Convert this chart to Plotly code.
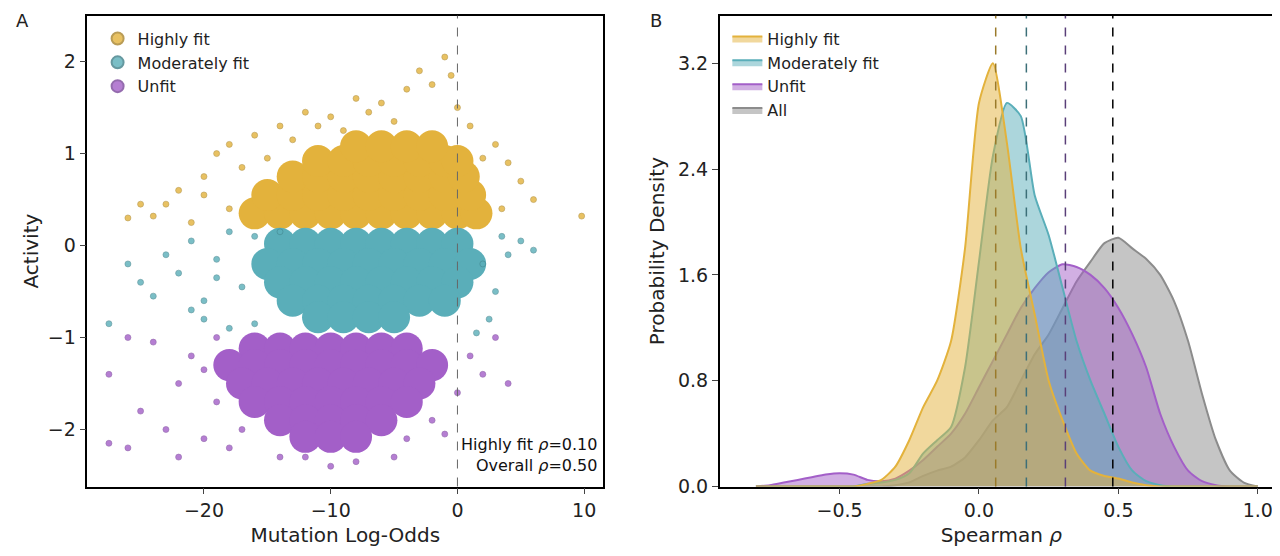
import plotly.graph_objects as go

# ---------------- Panel A data ----------------
hf_core_x = [-16,-14,-12,-10,-8,-6,-4,-2,0,1.5, -15,-13,-11,-9,-7,-5,-3,-1,1, -13,-11,-9,-7,-5,-3,-1,0.5, -11,-9,-7,-5,-3,-1,0, -8,-6,-4,-2]
hf_core_y = [0.35]*10 + [0.55]*9 + [0.75]*8 + [0.92]*7 + [1.08]*4
hf_out_x = [-25,-24,-22,-20,-19,-20,-18,-17,-16,-14,-12,-10,-8,-6,-4,-3,-1,-2,0,1,3,4,5,6,9.8,-21,-18,-26,-15,-13,2,3.5,-0.5,-5,-9,-23,-11,-7]
hf_out_y = [0.45,0.32,0.6,0.55,1.0,0.75,1.1,0.85,1.2,1.3,1.45,1.4,1.6,1.55,1.7,1.9,2.05,1.75,1.5,1.3,1.1,0.9,0.7,0.5,0.32,0.25,0.4,0.3,0.95,1.15,0.95,0.4,1.85,1.35,1.25,0.45,1.3,1.45]

mf_core_x = [-14,-12,-10,-8,-6,-4,-2,0, -15,-13,-11,-9,-7,-5,-3,-1,1, -14,-12,-10,-8,-6,-4,-2,0, -13,-11,-9,-7,-5,-3,-1, -11,-9,-7,-5]
mf_core_y = [0.02]*8 + [-0.2]*9 + [-0.4]*8 + [-0.6]*7 + [-0.78]*4
mf_out_x = [-27.5,-26,-24,-22,-21,-20,-19,-18,-17,-16,-18,2,3,4,5,6,2.5,1.5,-20,-23,-25,-14,3.5,-16,-21,-19]
mf_out_y = [-0.85,-0.2,-0.55,-0.3,0.05,-0.6,-0.15,-0.9,-0.45,0.1,0.15,-0.2,-0.5,-0.1,0.05,-0.05,-0.8,-0.95,-0.8,-0.1,-0.4,0.15,0.1,-0.85,-0.7,-0.35]

uf_core_x = [-16,-14,-12,-10,-8,-6,-4, -18,-16,-14,-12,-10,-8,-6,-4,-2, -17,-15,-13,-11,-9,-7,-5,-3, -16,-14,-12,-10,-8,-6,-4, -14,-12,-10,-8,-6, -12,-10,-8]
uf_core_y = [-1.12]*7 + [-1.3]*9 + [-1.5]*8 + [-1.7]*7 + [-1.9]*5 + [-2.08]*3
uf_out_x = [-27.5,-27.5,-26,-25,-24,-23,-22,-21,-20,-19,-18,-17,-14,-12,-10,-8,-5,-4,-2,0,1,2,4,3,-1,-26,-22,-20,-19]
uf_out_y = [-2.15,-1.4,-2.2,-1.8,-1.05,-2.0,-1.5,-1.2,-2.1,-1.7,-2.2,-2.0,-2.3,-2.3,-2.4,-2.35,-2.3,-2.1,-1.9,-1.6,-1.2,-1.4,-1.5,-1.0,-2.05,-1.0,-2.3,-1.35,-1.0]

# ---------------- Panel B data (KDE curves) ----------------
rho_grid = [-0.8,-0.75,-0.7,-0.65,-0.6,-0.55,-0.5,-0.45,-0.4,-0.35,-0.3,-0.25,-0.2,-0.15,-0.1,-0.05,
            0.0,0.05,0.1,0.15,0.2,0.25,0.3,0.35,0.4,0.45,0.5,0.55,0.6,0.65,0.7,0.75,0.8,0.85,0.9,0.95,1.0]
dens_hf = [0,0,0,0,0,0,0,0,0.02,0.05,0.15,0.35,0.6,0.8,1.1,1.8,2.9,3.2,2.6,1.8,1.3,0.8,0.5,0.25,0.12,0.08,0.06,0.03,0.01,0,0,0,0,0,0,0,0]
dens_mf = [0,0,0,0,0,0,0,0,0.02,0.03,0.05,0.1,0.25,0.35,0.45,0.9,1.7,2.5,2.9,2.8,2.2,1.9,1.5,1.1,0.8,0.55,0.3,0.12,0.04,0.01,0,0,0,0,0,0,0]
dens_uf = [0,0.01,0.03,0.05,0.07,0.09,0.1,0.09,0.05,0.04,0.06,0.12,0.2,0.3,0.4,0.55,0.75,0.95,1.15,1.35,1.5,1.62,1.68,1.66,1.6,1.5,1.35,1.15,0.9,0.55,0.3,0.12,0.04,0.01,0,0,0]
dens_all = [0,0,0,0,0,0,0,0,0,0,0.01,0.03,0.08,0.12,0.15,0.22,0.35,0.5,0.6,0.8,1.0,1.15,1.35,1.55,1.7,1.84,1.88,1.8,1.72,1.6,1.4,1.1,0.7,0.35,0.12,0.03,0]
medians = [0.06, 0.17, 0.31, 0.48]

C_HF, C_MF, C_UF, C_ALL = "#e3b23c", "#5aaeb9", "#a35fc8", "#8c8c8c"
E_HF, E_MF, E_UF = "#a8842c", "#3f7f88", "#7a479a"

fig = go.Figure()

def scat(cx, cy, ox, oy, col, edge, name):
    fig.add_trace(go.Scatter(x=cx, y=cy, mode="markers", name=name, legend="legend",
                             marker=dict(size=32, color=col, opacity=1, line=dict(width=0)),
                             showlegend=False, xaxis="x", yaxis="y"))
    fig.add_trace(go.Scatter(x=ox, y=oy, mode="markers", name=name, legend="legend",
                             marker=dict(size=6, color=col, opacity=0.8, line=dict(width=0.6, color=edge)),
                             xaxis="x", yaxis="y"))

scat(hf_core_x, hf_core_y, hf_out_x, hf_out_y, C_HF, E_HF, "Highly fit")
scat(mf_core_x, mf_core_y, mf_out_x, mf_out_y, C_MF, E_MF, "Moderately fit")
scat(uf_core_x, uf_core_y, uf_out_x, uf_out_y, C_UF, E_UF, "Unfit")

def rgba(h, a):
    h = h.lstrip("#")
    return "rgba(%d,%d,%d,%.2f)" % (int(h[0:2],16), int(h[2:4],16), int(h[4:6],16), a)

for dens, col, name, rank in [(dens_all, C_ALL, "All", 4), (dens_uf, C_UF, "Unfit", 3),
                              (dens_mf, C_MF, "Moderately fit", 2), (dens_hf, C_HF, "Highly fit", 1)]:
    fig.add_trace(go.Scatter(x=rho_grid, y=dens, mode="lines", name=name, legend="legend2",
                             legendrank=rank, fill="tozeroy", fillcolor=rgba(col, 0.5),
                             line=dict(color=col, width=2, shape="spline", smoothing=0.6),
                             xaxis="x2", yaxis="y2"))

for m, col in zip(medians, ["#9a7a2a", "#3c6f78", "#5a3f78", "#000000"]):
    fig.add_shape(type="line", x0=m, x1=m, y0=0, y1=1, xref="x2", yref="y2 domain",
                  line=dict(color=col, width=1.5, dash="dash"))
fig.add_shape(type="line", x0=0, x1=0, y0=0, y1=1, xref="x", yref="y domain",
              line=dict(color="#666666", width=1, dash="dash"))

ax = dict(showgrid=False, zeroline=False, showline=True, mirror=True, linecolor="black",
          linewidth=1.5, ticks="outside", ticklen=6, tickwidth=1.2,
          tickfont=dict(size=19, color="#222"), title_font=dict(size=20, color="#222"))

fig.update_layout(
    width=1280, height=556, plot_bgcolor="white", paper_bgcolor="white",
    font=dict(family="DejaVu Sans", color="#222"),
    margin=dict(l=0, r=0, t=0, b=0),
    xaxis=dict(ax, domain=[0.062, 0.465], range=[-29.2, 11.5], tickvals=[-20,-10,0,10],
               ticktext=["−20","−10","0","10"], title_text="Mutation Log-Odds", title_standoff=8),
    yaxis=dict(ax, domain=[0.122, 0.986], range=[-2.62, 2.5], tickvals=[-2,-1,0,1,2],
               ticktext=["−2","−1","0","1","2"], title_text="Activity", title_standoff=4),
    xaxis2=dict(ax, domain=[0.556, 0.996], range=[-0.93, 1.09], tickvals=[-0.5,0,0.5,1.0],
                ticktext=["−0.5","0.0","0.5","1.0"], title_text="Spearman <i>ρ</i>", title_standoff=8, anchor="y2"),
    yaxis2=dict(ax, domain=[0.122, 0.986], range=[0, 3.56], tickvals=[0,0.8,1.6,2.4,3.2],
                ticktext=["0.0","0.8","1.6","2.4","3.2"], title_text="Probability Density", title_standoff=8, anchor="x2"),
    legend=dict(x=0.07, y=0.975, xanchor="left", yanchor="top", bgcolor="rgba(0,0,0,0)",
                font=dict(size=16, color="#222"), itemsizing="constant"),
    legend2=dict(x=0.562, y=0.975, xanchor="left", yanchor="top", bgcolor="rgba(255,255,255,0.8)",
                 font=dict(size=16, color="#222")),
    annotations=[
        dict(text="A", x=0.005, y=1.0, xref="paper", yref="paper", showarrow=False, xanchor="left", yanchor="top", font=dict(size=18)),
        dict(text="B", x=0.5, y=1.0, xref="paper", yref="paper", showarrow=False, xanchor="left", yanchor="top", font=dict(size=18)),
        dict(text="Highly fit <i>ρ</i>=0.10<br>Overall <i>ρ</i>=0.50", x=0.992, y=0.02, xref="x domain", yref="y domain",
             showarrow=False, xanchor="right", yanchor="bottom", align="right", font=dict(size=16, color="#111")),
    ],
)
fig.write_html("out.html")
